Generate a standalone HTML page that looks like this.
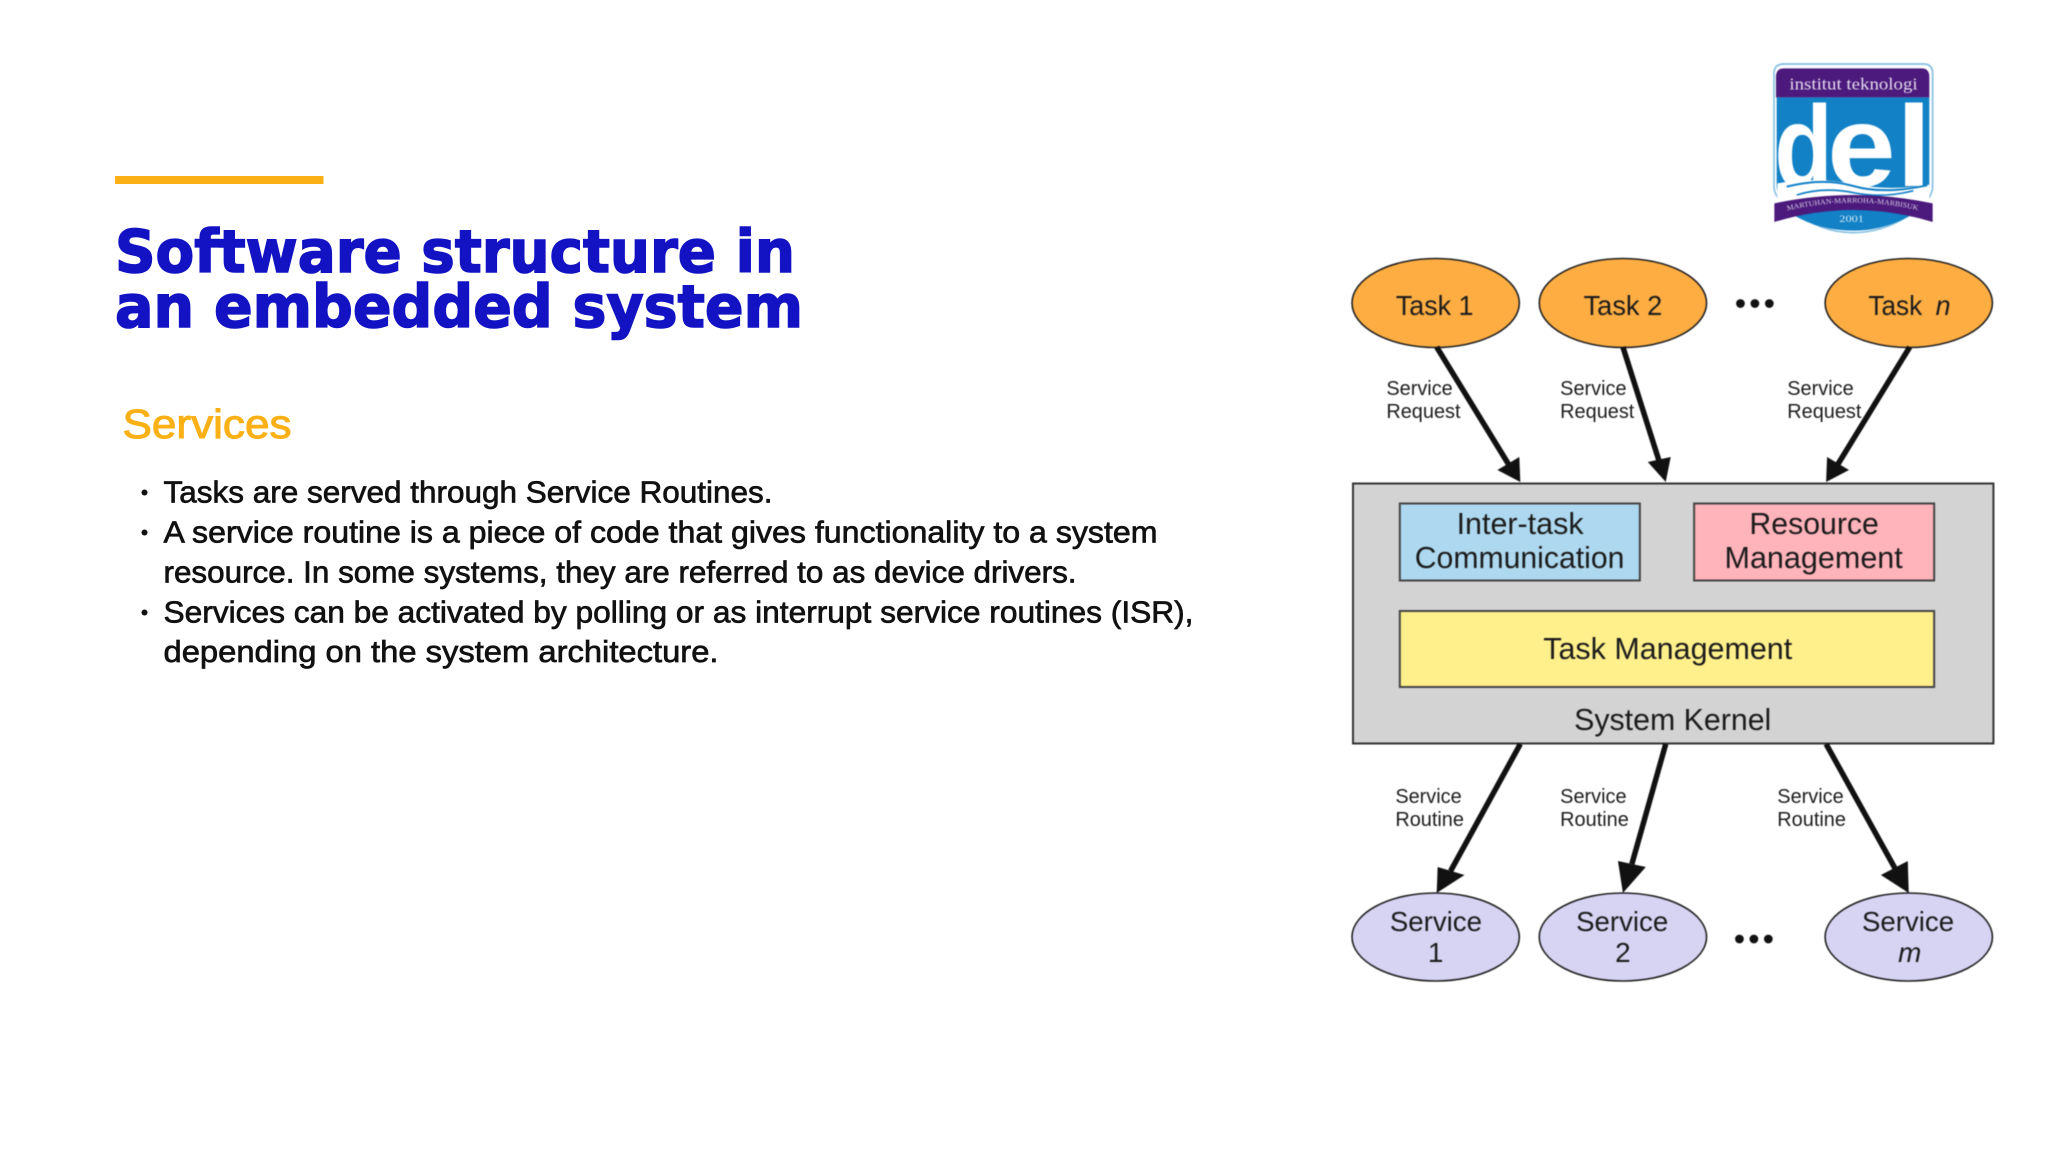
<!DOCTYPE html>
<html><head><meta charset="utf-8"><style>
html,body{margin:0;padding:0;background:#fff;width:2048px;height:1152px;overflow:hidden}
svg{display:block}
.d{font-family:"Liberation Sans",sans-serif;fill:#1c1c1c}
.b{font-family:"Liberation Sans",sans-serif;font-size:31px;fill:#111;stroke:#111;stroke-width:.7px}
</style></head><body>
<svg width="2048" height="1152" viewBox="0 0 2048 1152" xmlns="http://www.w3.org/2000/svg">
<rect width="2048" height="1152" fill="#fff"/>
<rect x="115" y="176" width="208.5" height="8" fill="#fbb116"/>
<g font-family="'DejaVu Sans',sans-serif" font-weight="700" font-size="59" fill="#1313c4" stroke="#1313c4" stroke-width="1.6">
<text x="115" y="272" textLength="680" lengthAdjust="spacingAndGlyphs">Software structure in</text>
<text x="115" y="327" textLength="688" lengthAdjust="spacingAndGlyphs">an embedded system</text>
</g>
<text x="122.5" y="438" font-family="'Liberation Sans',sans-serif" font-size="41" fill="#fbb116" stroke="#fbb116" stroke-width="1" textLength="169" lengthAdjust="spacingAndGlyphs">Services</text>
<circle cx="144.5" cy="492.5" r="3" fill="#111"/><circle cx="144.5" cy="532.5" r="3" fill="#111"/><circle cx="144.5" cy="612.5" r="3" fill="#111"/>
<text class="b" x="163.5" y="502.5" textLength="609" lengthAdjust="spacingAndGlyphs">Tasks are served through Service Routines.</text>
<text class="b" x="163.5" y="542.5" textLength="994" lengthAdjust="spacingAndGlyphs">A service routine is a piece of code that gives functionality to a system</text>
<text class="b" x="163.5" y="582.5" textLength="913" lengthAdjust="spacingAndGlyphs">resource. In some systems, they are referred to as device drivers.</text>
<text class="b" x="163.5" y="622.5" textLength="1030" lengthAdjust="spacingAndGlyphs">Services can be activated by polling or as interrupt service routines (ISR),</text>
<text class="b" x="163.5" y="662" textLength="555" lengthAdjust="spacingAndGlyphs">depending on the system architecture.</text>

<!-- logo -->
<g transform="translate(1740 40) scale(.3333)" style="filter:blur(1.5px)">
<path d="M132 72H550Q578 72 578 100V440Q578 475 530 510Q440 578 340 578Q240 578 155 510Q102 475 102 440V100Q102 72 132 72Z" fill="#fff" stroke="#85bfe0" stroke-width="5"/>
<path d="M110 172V440Q112 470 140 490H540Q566 470 568 440V172Z" fill="#1281c6"/>
<path d="M108 172V110Q108 85 132 85H545Q568 85 568 110V172Z" fill="#4b1a7c"/>
<text x="148" y="148" font-family="'Liberation Serif',serif" font-size="52" fill="#e4d8ee" textLength="385" lengthAdjust="spacingAndGlyphs">institut teknologi</text>
<g font-family="'Liberation Sans',sans-serif" font-weight="700" font-size="345" fill="#fff">
<text x="103" y="438" textLength="175" lengthAdjust="spacingAndGlyphs">d</text>
<text x="262" y="438" textLength="205" lengthAdjust="spacingAndGlyphs">e</text>
<text x="469" y="438" textLength="106" lengthAdjust="spacingAndGlyphs">l</text>
</g>
<path d="M112 430Q230 410 340 432T568 434V490H112Z" fill="#fff"/>
<path d="M140 440Q250 412 340 438T562 436" fill="none" stroke="#1281c6" stroke-width="6"/>
<path d="M170 465Q250 440 340 458T520 452" fill="none" stroke="#1281c6" stroke-width="5"/>
<path d="M160 525Q340 465 515 525Q430 572 340 572Q240 572 160 525Z" fill="#1281c6"/>
<path d="M103 490Q340 440 578 490V546Q340 474 103 546Z" fill="#4b1a7c"/>
<path id="arc" d="M142 512Q340 464 538 512" fill="none"/>
<text font-family="'Liberation Serif',serif" font-size="22" fill="#d8cce6"><textPath href="#arc" textLength="395" lengthAdjust="spacingAndGlyphs">MARTUHAN-MARROHA-MARBISUK</textPath></text>
<text x="298" y="546" font-family="'Liberation Serif',serif" font-size="28" fill="#d5e8f5" textLength="74" lengthAdjust="spacingAndGlyphs">2001</text>
</g>

<!-- diagram -->
<g transform="translate(1352 0) scale(.996 1) translate(-1352 0)" style="filter:blur(.5px)">
<g stroke="#222" stroke-width="1.6">
<ellipse cx="1436" cy="303" rx="84" ry="44.5" fill="#fdad42"/>
<ellipse cx="1624" cy="303" rx="84" ry="44.5" fill="#fdad42"/>
<ellipse cx="1911" cy="303" rx="84" ry="44.5" fill="#fdad42"/>
<ellipse cx="1436" cy="937" rx="84" ry="44" fill="#d6d3f3"/>
<ellipse cx="1624" cy="937" rx="84" ry="44" fill="#d6d3f3"/>
<ellipse cx="1911" cy="937" rx="84" ry="44" fill="#d6d3f3"/>
</g>
<rect x="1353" y="483.5" width="643" height="260" fill="#d3d3d3" stroke="#333" stroke-width="2"/>
<rect x="1400" y="503.5" width="241" height="77" fill="#aed8ef" stroke="#444" stroke-width="2"/>
<rect x="1695.5" y="503.5" width="241" height="77" fill="#ffb3ba" stroke="#444" stroke-width="2"/>
<rect x="1400" y="611" width="536.5" height="76" fill="#fff08c" stroke="#444" stroke-width="2"/>
<g fill="#111">
<circle cx="1742" cy="303.5" r="4.4"/><circle cx="1756.5" cy="303.5" r="4.4"/><circle cx="1771" cy="303.5" r="4.4"/>
<circle cx="1741" cy="939" r="4.4"/><circle cx="1755.5" cy="939" r="4.4"/><circle cx="1770" cy="939" r="4.4"/>
</g>
<g stroke="#111" stroke-width="5.5" fill="none">
<path d="M1437 347L1509 464"/><path d="M1624 347L1660 460"/><path d="M1912 347L1840 464"/>
<path d="M1521 744L1451 871"/><path d="M1667 744L1633 864"/><path d="M1828 744L1897 868"/>
</g>
<g fill="#111">
<path d="M1521 482L1498 470L1520 457Z"/><path d="M1667 482L1649 462L1672 457Z"/><path d="M1828 482L1829 457L1851 470Z"/>
<path d="M1437 893L1438 867L1465 875Z"/><path d="M1624 893L1619 861L1647 867Z"/><path d="M1911 893L1883 875L1910 861Z"/>
</g>
<g class="d" font-family="'Liberation Sans',sans-serif" font-size="28">
<text class="d" x="1396" y="315" font-size="28" textLength="78" lengthAdjust="spacingAndGlyphs">Task 1</text>
<text class="d" x="1584.5" y="315" font-size="28" textLength="79" lengthAdjust="spacingAndGlyphs">Task 2</text>
<text class="d" x="1870.5" y="315" font-size="28" textLength="54" lengthAdjust="spacingAndGlyphs">Task</text>
<text class="d" x="1938" y="315" font-size="28" font-style="italic" textLength="15" lengthAdjust="spacingAndGlyphs">n</text>
<text class="d" x="1457" y="534" font-size="31" textLength="127.5" lengthAdjust="spacingAndGlyphs">Inter-task</text>
<text class="d" x="1415" y="568" font-size="31" textLength="210.5" lengthAdjust="spacingAndGlyphs">Communication</text>
<text class="d" x="1751" y="534" font-size="31" textLength="130" lengthAdjust="spacingAndGlyphs">Resource</text>
<text class="d" x="1726" y="568" font-size="31" textLength="179" lengthAdjust="spacingAndGlyphs">Management</text>
<text class="d" x="1544" y="659" font-size="31" textLength="250" lengthAdjust="spacingAndGlyphs">Task Management</text>
<text class="d" x="1575" y="730" font-size="31" textLength="198" lengthAdjust="spacingAndGlyphs">System Kernel</text>
<text class="d" x="1390" y="931" textLength="92.5" lengthAdjust="spacingAndGlyphs">Service</text>
<text class="d" x="1436" y="962" text-anchor="middle">1</text>
<text class="d" x="1577" y="931" textLength="92.5" lengthAdjust="spacingAndGlyphs">Service</text>
<text class="d" x="1624" y="962" text-anchor="middle">2</text>
<text class="d" x="1864" y="931" textLength="92.5" lengthAdjust="spacingAndGlyphs">Service</text>
<text class="d" x="1912" y="962" text-anchor="middle" font-style="italic">m</text>
</g>
<g class="d" font-family="'Liberation Sans',sans-serif" font-size="20">
<text class="d" x="1386.5" y="395">Service</text><text class="d" x="1386.5" y="418">Request</text>
<text class="d" x="1561" y="395">Service</text><text class="d" x="1561" y="418">Request</text>
<text class="d" x="1789" y="395">Service</text><text class="d" x="1789" y="418">Request</text>
<text class="d" x="1395.5" y="803">Service</text><text class="d" x="1395.5" y="826">Routine</text>
<text class="d" x="1561" y="803">Service</text><text class="d" x="1561" y="826">Routine</text>
<text class="d" x="1779" y="803">Service</text><text class="d" x="1779" y="826">Routine</text>
</g>
</g>
</svg>
</body></html>
